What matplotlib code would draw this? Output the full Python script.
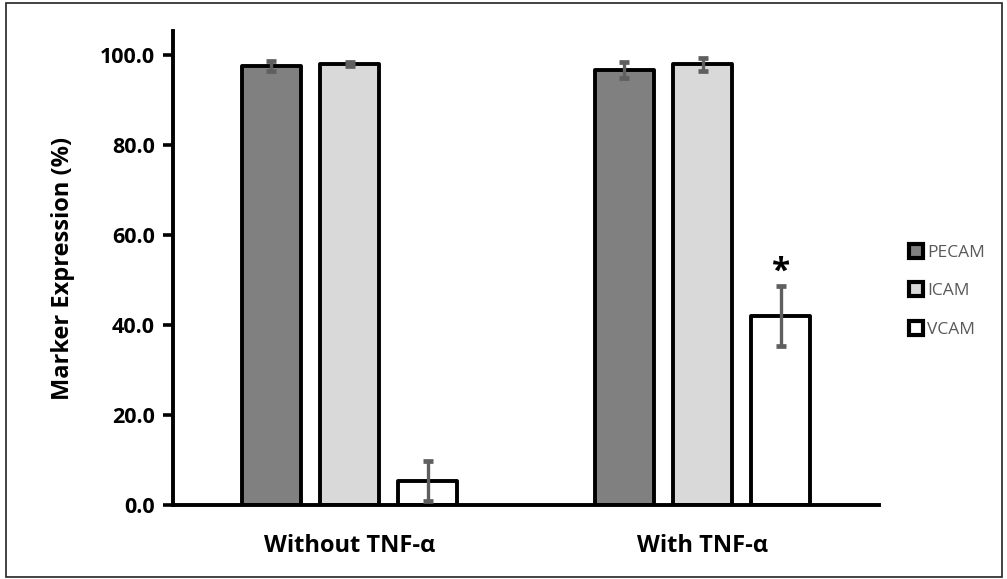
import numpy as np
import matplotlib.pyplot as plt
import matplotlib.patches as mpatches
from matplotlib.lines import Line2D

plt.rcParams['font.family'] = ['Open Sans', 'DejaVu Sans']

# data
groups = ['Without TNF-\u03b1', 'With TNF-\u03b1']
markers = ['PECAM', 'ICAM', 'VCAM']
pecam = [97.6, 96.6]
pecam_err = [1.1, 1.7]
icam = [97.9, 97.9]
icam_err = [0.4, 1.5]
vcam = [5.3, 42.0]
vcam_err = [4.5, 6.7]
yticks = [0, 20, 40, 60, 80, 100]

values = [pecam, icam, vcam]
errors = [pecam_err, icam_err, vcam_err]
fills = ['#808080', '#d9d9d9', '#ffffff']

fig = plt.figure(figsize=(10.07, 5.79), dpi=100)
ax = fig.add_axes([0.1718, 0.1278, 0.7011, 0.8187])

x = np.arange(len(groups))
width = 0.167
step = 0.222
for i in range(3):
    ax.bar(x + (i - 1) * step, values[i], width, color=fills[i],
           edgecolor='black', linewidth=2.8, joinstyle='round', zorder=2)
    ax.errorbar(x + (i - 1) * step, values[i], yerr=errors[i], fmt='none',
                ecolor='#5f5f5f', elinewidth=2.4, capsize=3.8, capthick=3.4,
                zorder=3)

# significance marker
ax.text(x[1] + step, vcam[1] + vcam_err[1] + 3.0, '*', ha='center', va='center',
        fontsize=24, fontweight='bold')

ax.set_xlim(-0.5, 1.5)
ax.set_ylim(0, 105.3)
ax.set_yticks(yticks)
ax.set_yticklabels(['%.1f' % t for t in yticks], fontsize=15.5, fontweight='bold')
ax.set_xticks(x)
ax.set_xticklabels(groups, fontsize=17, fontweight='bold')
ax.tick_params(axis='x', length=0, pad=21)
ax.tick_params(axis='y', length=7, width=2.6, pad=6)
ax.set_ylabel('Marker Expression (%)', fontsize=17, fontweight='bold', labelpad=18)

for s in ['top', 'right']:
    ax.spines[s].set_visible(False)
for s in ['left', 'bottom']:
    ax.spines[s].set_linewidth(2.8)

handles = [Line2D([], [], marker='s', linestyle='none', markersize=10,
                  markerfacecolor=c, markeredgecolor='black', markeredgewidth=3)
           for c in fills]
leg = fig.legend(handles, markers, loc='center left', bbox_to_anchor=(0.887, 0.497),
                 frameon=False, fontsize=12.5, handlelength=0.8, handletextpad=0.25,
                 labelspacing=1.3, labelcolor='#595959')

# outer frame around the picture
fig.patches.append(mpatches.Rectangle((0.006, 0.004), 0.989, 0.99, transform=fig.transFigure,
                                      fill=False, edgecolor='#222222', linewidth=1.2))

fig.savefig('out.png', dpi=100)
